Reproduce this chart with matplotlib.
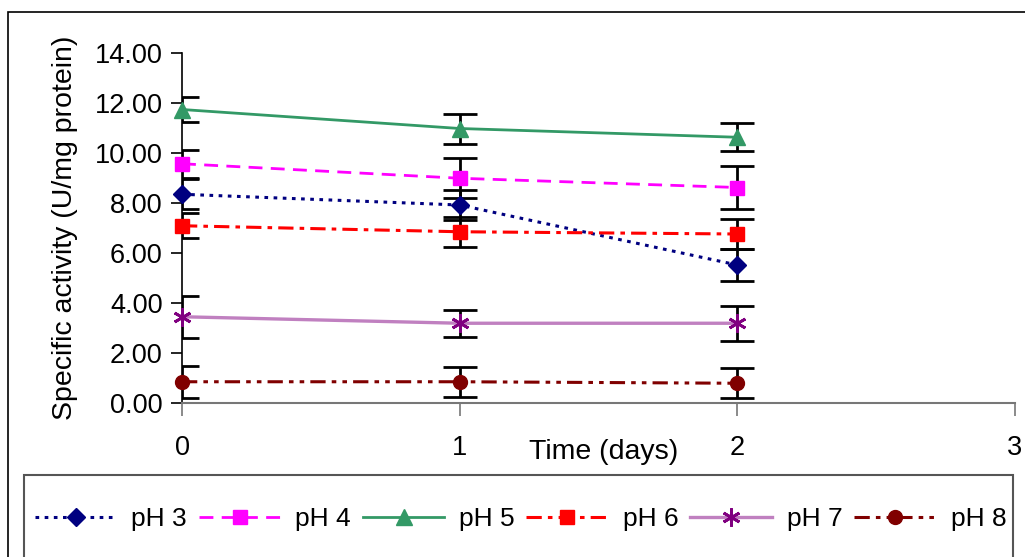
import matplotlib
matplotlib.use("Agg")
import matplotlib.pyplot as plt
from matplotlib.lines import Line2D
from matplotlib.patches import Rectangle

plt.rcParams['font.family'] = ['Liberation Sans', 'DejaVu Sans']

days = [0, 1, 2]
labels = ["pH 3", "pH 4", "pH 5", "pH 6", "pH 7", "pH 8"]
ph3 = [8.35, 7.92, 5.52]
ph4 = [9.57, 8.99, 8.62]
ph5 = [11.74, 10.98, 10.63]
ph6 = [7.09, 6.85, 6.76]
ph7 = [3.45, 3.19, 3.19]
ph8 = [0.85, 0.85, 0.79]
err3 = [0.6, 0.6, 0.65]
err4 = [0.55, 0.8, 0.85]
err5 = [0.5, 0.6, 0.55]
err6 = [0.5, 0.6, 0.6]
err7 = [0.85, 0.55, 0.7]
err8 = [0.65, 0.6, 0.6]
yticks = [0, 2, 4, 6, 8, 10, 12, 14]
xticks = [0, 1, 2, 3]

series = [
    (ph3, err3, dict(color="#000080", ls=(0, (1.2, 1.8)), lw=2.2, marker="D", ms=9, mfc="#000080", mec="#000080")),
    (ph4, err4, dict(color="#FF00FF", ls=(0, (5, 3)), lw=2.0, marker="s", ms=10, mfc="#FF00FF", mec="#FF00FF")),
    (ph5, err5, dict(color="#339966", ls="-", lw=2.0, marker="^", ms=11, mfc="#339966", mec="#339966")),
    (ph6, err6, dict(color="#FF0000", ls=(0, (5, 2, 1.5, 2)), lw=2.2, marker="s", ms=10, mfc="#FF0000", mec="#FF0000")),
    (ph7, err7, dict(color="#C080C0", ls="-", lw=2.4, marker=(6, 2, 0), ms=13, mec="#800080", mew=2.0)),
    (ph8, err8, dict(color="#800000", ls=(0, (5, 2, 1.5, 2, 1.5, 2)), lw=2.2, marker="o", ms=10, mfc="#800000", mec="#800000")),
]

fig = plt.figure(figsize=(10.25, 5.57), dpi=100)
W, H = 1025, 557
ax = fig.add_axes([182 / W, 1 - 403 / H, (1015 - 182) / W, (403 - 53) / H])

fig.patches.append(Rectangle((8 / W, -0.1), 1.2, 1 - 12 / H + 0.1, transform=fig.transFigure,
                             fill=False, ec="black", lw=1.2, zorder=0))
fig.patches.append(Rectangle((24 / W, -0.1), (1013 - 24) / W, 1 - 475 / H + 0.1, transform=fig.transFigure,
                             fill=False, ec="#555555", lw=1.5, zorder=0))

handles = []
for (vals, err, st), lab in zip(series, labels):
    ax.errorbar(days, vals, yerr=err, fmt="none", ecolor="black", elinewidth=2.0,
                capsize=12, capthick=2.0, zorder=2)
    ax.plot(days, vals, zorder=3, clip_on=False, **st)
    handles.append(Line2D([0], [0], **st))

ax.set_xlim(0, 3)
ax.set_ylim(0, 14)
ax.set_yticks(yticks)
ax.set_yticklabels([f"{v:.2f}" for v in yticks], fontsize=19.5)
ax.set_xticks(xticks)
ax.set_xticklabels([str(v) for v in xticks], fontsize=19.5)
for s in ["top", "right"]:
    ax.spines[s].set_visible(False)
ax.spines["left"].set_color("black")
ax.spines["left"].set_linewidth(1.2)
ax.spines["bottom"].set_color("#777777")
ax.spines["bottom"].set_linewidth(1.5)
ax.tick_params(axis="y", direction="out", length=8, width=1.2, pad=6)
ax.tick_params(axis="x", direction="out", length=9, width=1.2, color="#777777", pad=14)

ax.set_ylabel("Specific activity (U/mg protein)", fontsize=20.5, labelpad=12)
fig.text(604 / W, 1 - 452 / H, "Time (days)", fontsize=20.5, ha="center", va="center")

leg = fig.legend(handles, labels, loc="center left", bbox_to_anchor=(35 / W, 1 - 519 / H),
                 ncol=6, frameon=False, fontsize=19, handlelength=3.1, handletextpad=0.55,
                 columnspacing=0.45, borderaxespad=0, borderpad=0)

fig.savefig("out.png", dpi=100)
